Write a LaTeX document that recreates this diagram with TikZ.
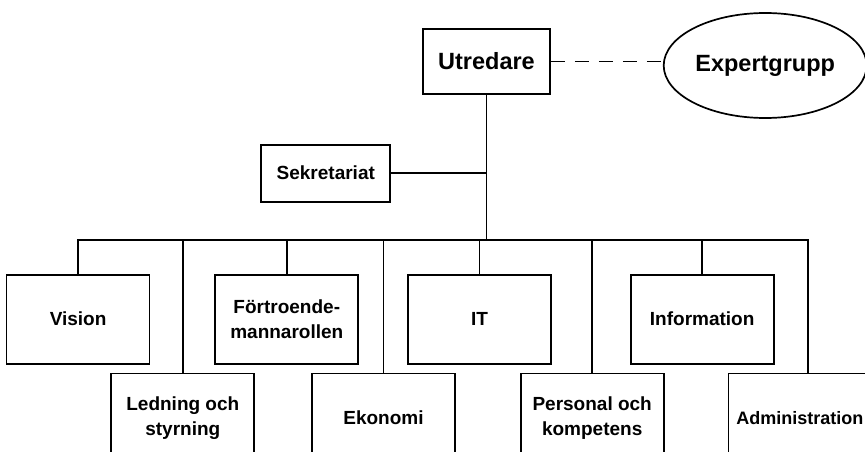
\documentclass[tikz,border=0pt]{standalone}
\usepackage{fontspec}
\setmainfont{Liberation Sans}
\usetikzlibrary{positioning,shapes.geometric}

\tikzset{
    unitbox/.style={draw,align=center,minimum width=143pt,minimum height=89pt,inner sep=0pt,
        font=\fontsize{19}{25}\selectfont\bfseries},
    headbox/.style={draw,align=center,inner sep=0pt,font=\fontsize{23.5}{28}\selectfont\bfseries},
}

\begin{document}
\begin{tikzpicture}[x=1pt,y=-1pt,line width=1.7pt]
    \useasboundingbox (0,0) rectangle (865,452);
    \clip (0,0) rectangle (865,452);
    \draw
        node[headbox,minimum width=127pt,minimum height=65pt] (utr) at (486.5,61.5) {Utredare}
        node[headbox,ellipse,right=112pt of utr,yshift=-4pt,minimum width=203pt,minimum height=105pt] (exp) {Expertgrupp}
        node[draw,align=center,inner sep=0pt,below left=49pt and 31pt of utr,minimum width=129pt,minimum height=57pt,
            font=\fontsize{19}{25}\selectfont\bfseries] (sek) {Sekretariat}

        node[unitbox,below=179pt of utr,xshift=-7pt] (it) {IT}
        node[unitbox,left=48pt of it] (frt) {Förtroende-\\mannarollen}
        node[unitbox,left=64pt of frt] (vis) {Vision}
        node[unitbox,right=78pt of it] (inf) {Information}

        node[unitbox,below right=8pt and -40pt of vis] (led) {Ledning och\\styrning}
        node[unitbox,right=56pt of led] (eko) {Ekonomi}
        node[unitbox,right=64pt of eko] (prs) {Personal och\\kompetens}
        node[unitbox,right=64pt of prs,font=\fontsize{18}{25}\selectfont\bfseries,xshift=-1pt] (adm) {Administration}
    ;
    \coordinate[below=145pt of utr.south] (bus);

    \draw (utr) -- (bus);
    \draw (sek) -- (sek -| utr);
    \draw[dash pattern=on 14pt off 10pt,line width=1.3pt] (utr.east) -- (utr.east -| exp.west);

    \draw (vis.north) |- (bus);
    \draw (frt.north) |- (bus);
    \draw (it.north) |- (bus);
    \draw (inf.north) |- (bus);
    \draw (led.north) |- (bus);
    \draw (eko.north) |- (bus);
    \draw (prs.north) |- (bus);
    \draw ([xshift=8pt]adm.north) |- (bus);
\end{tikzpicture}
\end{document}
